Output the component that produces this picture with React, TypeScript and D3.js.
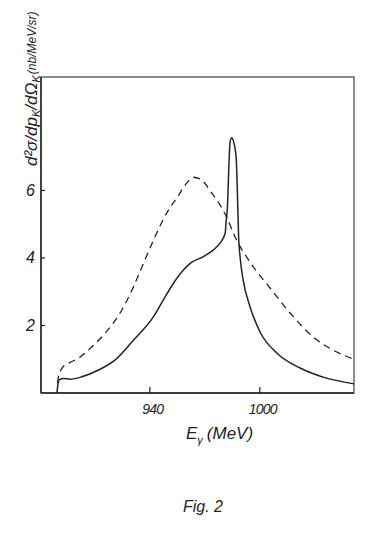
import React from 'react';
import * as d3 from 'd3';

// photon energy (MeV) and d2sigma values
const solidE = [889.3, 889.8, 890.5, 892.9, 896.5, 902.9, 912.0, 921.1, 931.0, 942.0, 947.4, 952.9, 958.3, 962.0, 969.2, 974.7, 978.3, 981.1, 981.6, 982.3, 983.3, 983.8, 984.7, 985.7, 987.1, 988.0, 988.4, 989.3, 990.9, 994.7, 1000.2, 1009.4, 1022.0, 1034.6, 1051.4];
const solidV = [0, 0.25, 0.39, 0.43, 0.41, 0.48, 0.68, 0.98, 1.56, 2.26, 2.76, 3.25, 3.64, 3.84, 4.04, 4.24, 4.44, 4.73, 5.07, 5.48, 6.96, 7.44, 7.56, 7.44, 6.96, 5.48, 4.68, 4.0, 3.35, 2.55, 1.8, 1.18, 0.74, 0.47, 0.27];

const dashE = [889.7, 890.1, 892.0, 895.6, 901.1, 908.4, 915.6, 924.7, 931.1, 936.5, 942.0, 946.5, 950.5, 955.0, 959.3, 963.8, 968.0, 973.8, 977.4, 982.0, 986.0, 995.0, 1005.6, 1016.5, 1029.1, 1040.0, 1051.4];
const dashV = [0.3, 0.48, 0.73, 0.88, 1.03, 1.37, 1.77, 2.46, 3.15, 3.84, 4.53, 5.05, 5.45, 5.8, 6.16, 6.39, 6.32, 5.92, 5.65, 5.2, 4.68, 3.85, 3.11, 2.37, 1.66, 1.27, 1.0];

const xTicks = [940, 1000];
const yTicks = [2, 4, 6];

const W = 375;
const H = 545;
const margin = { left: 41, right: 21, top: 77, bottom: 152 };

export default function App() {
  const x = d3.scaleLinear().domain([880.6, 1051.4]).range([margin.left, W - margin.right]);
  const y = d3.scaleLinear().domain([0, 9.36]).range([H - margin.bottom, margin.top]);

  const line = d3.line<number[]>()
    .x(d => x(d[0]))
    .y(d => y(d[1]))
    .curve(d3.curveMonotoneX);

  const solid = line(solidE.map((e, i) => [e, solidV[i]]));
  const dashed = line(dashE.map((e, i) => [e, dashV[i]]));

  const x0 = x.range()[0];
  const x1 = x.range()[1];
  const yb = y.range()[0];
  const yt = y.range()[1];
  const ink = '#222';
  const font = "'Liberation Sans', Arial, sans-serif";

  return (
    <svg width={W} height={H} style={{ position: 'absolute', left: 0, top: 0, background: '#fff' }}>
      {/* frame */}
      <rect x={x0} y={yt} width={x1 - x0} height={yb - yt} fill="none" stroke="#444" strokeWidth={1.2} />
      <line x1={x0} x2={x1} y1={yb} y2={yb} stroke={ink} strokeWidth={1.6} />
      <line x1={x0} x2={x0} y1={yt} y2={yb} stroke={ink} strokeWidth={1.4} />

      {/* ticks */}
      {xTicks.map(t => (
        <g key={t}>
          <line x1={x(t)} x2={x(t)} y1={yb} y2={yb - 6} stroke={ink} strokeWidth={1.2} />
          <text x={x(t) + 3} y={yb + 21} textAnchor="middle" fontFamily={font} fontStyle="italic" fontSize={14} fill={ink} letterSpacing={-0.8}>{t}</text>
        </g>
      ))}
      {yTicks.map(t => (
        <g key={t}>
          <line x1={x0} x2={x0 + 4} y1={y(t)} y2={y(t)} stroke={ink} strokeWidth={1.2} />
          <text x={35} y={y(t) + 5.5} textAnchor="end" fontFamily={font} fontStyle="italic" fontSize={16} fill={ink}>{t}</text>
        </g>
      ))}

      {/* curves */}
      <path d={dashed || ''} fill="none" stroke={ink} strokeWidth={1.3} strokeDasharray="7,5" />
      <path d={solid || ''} fill="none" stroke={ink} strokeWidth={1.5} />

      {/* axis titles */}
      <text x={186} y={439} fontFamily={font} fontStyle="italic" fontSize={17} fill={ink}>
        E<tspan fontSize={11} dy={5}>γ</tspan><tspan dy={-5} dx={4}>(MeV)</tspan>
      </text>
      <text transform="translate(37,166) rotate(-90)" fontFamily={font} fontStyle="italic" fill={ink}>
        <tspan fontSize={17}>d²σ/dp</tspan><tspan fontSize={11} dy={3}>K</tspan>
        <tspan fontSize={17} dy={-3}>/dΩ</tspan><tspan fontSize={11} dy={3}>K</tspan>
        <tspan fontSize={12} dy={-4} dx={1}>(nb/MeV/sr)</tspan>
      </text>

      <text x={183} y={512} fontFamily={font} fontStyle="italic" fontSize={16} fill={ink}>Fig. 2</text>
    </svg>
  );
}
